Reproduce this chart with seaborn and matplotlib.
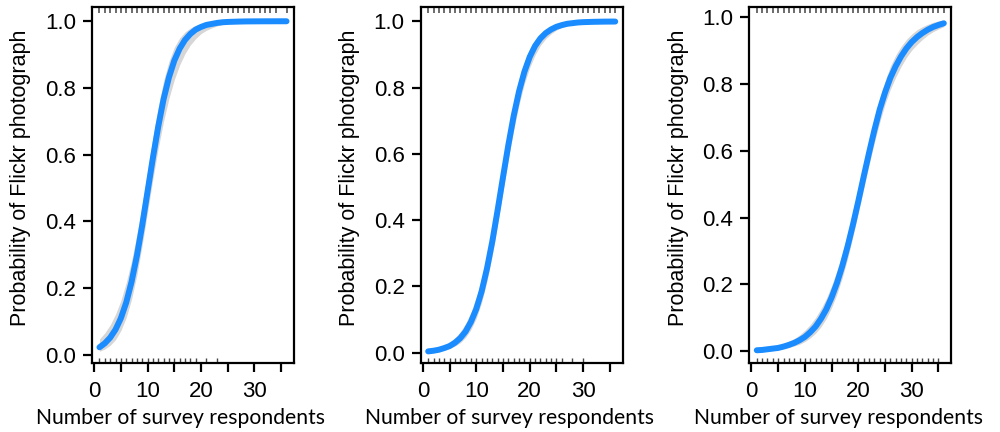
import matplotlib
matplotlib.use("Agg")
import matplotlib.pyplot as plt
import seaborn as sns
import pandas as pd

# number of survey respondents (x grid of the fitted curves)
respondents = list(range(1, 37))

# fitted probability + confidence band
prob_1 = [0.023, 0.035, 0.052, 0.076, 0.110, 0.157, 0.219, 0.297, 0.389, 0.490,
          0.591, 0.685, 0.767, 0.832, 0.882, 0.918, 0.944, 0.962, 0.975, 0.983,
          0.989, 0.992, 0.995, 0.997, 0.998, 0.9985, 0.999, 0.9994, 0.9996, 0.9997,
          0.9998, 0.9999, 0.9999, 1.0, 1.0, 1.0]
lower_1 = [0.011, 0.018, 0.029, 0.046, 0.073, 0.112, 0.167, 0.240, 0.330, 0.429,
           0.528, 0.620, 0.701, 0.769, 0.825, 0.869, 0.903, 0.929, 0.948, 0.963,
           0.973, 0.980, 0.986, 0.990, 0.993, 0.995, 0.996, 0.997, 0.998, 0.9986,
           0.999, 0.9993, 0.9995, 0.9996, 0.9997, 0.9998]
upper_1 = [0.048, 0.066, 0.090, 0.122, 0.163, 0.217, 0.282, 0.361, 0.452, 0.551,
           0.652, 0.744, 0.822, 0.880, 0.922, 0.950, 0.968, 0.980, 0.988, 0.992,
           0.995, 0.997, 0.998, 0.999, 0.9993, 0.9996, 0.9997, 0.9998, 0.9999, 0.9999,
           1.0, 1.0, 1.0, 1.0, 1.0, 1.0]

prob_2 = [0.004, 0.006, 0.009, 0.014, 0.020, 0.030, 0.044, 0.064, 0.093, 0.132,
          0.185, 0.254, 0.336, 0.431, 0.530, 0.627, 0.715, 0.789, 0.848, 0.893,
          0.926, 0.949, 0.965, 0.976, 0.984, 0.989, 0.993, 0.995, 0.997, 0.998,
          0.9985, 0.999, 0.9993, 0.9996, 0.9997, 0.9998]
lower_2 = [0.002, 0.003, 0.005, 0.008, 0.013, 0.020, 0.030, 0.046, 0.070, 0.104,
           0.152, 0.216, 0.295, 0.388, 0.487, 0.584, 0.672, 0.749, 0.812, 0.861,
           0.899, 0.928, 0.948, 0.963, 0.974, 0.982, 0.987, 0.991, 0.994, 0.996,
           0.997, 0.998, 0.9985, 0.9989, 0.9993, 0.9995]
upper_2 = [0.008, 0.011, 0.016, 0.023, 0.032, 0.045, 0.063, 0.088, 0.122, 0.167,
           0.224, 0.295, 0.380, 0.474, 0.573, 0.669, 0.754, 0.825, 0.879, 0.918,
           0.945, 0.964, 0.977, 0.985, 0.990, 0.994, 0.996, 0.997, 0.998, 0.9989,
           0.9993, 0.9995, 0.9997, 0.9998, 0.9999, 0.9999]

prob_3 = [0.003, 0.004, 0.006, 0.008, 0.010, 0.014, 0.019, 0.025, 0.033, 0.043,
          0.057, 0.074, 0.097, 0.125, 0.161, 0.204, 0.255, 0.314, 0.379, 0.449,
          0.522, 0.593, 0.661, 0.723, 0.774, 0.818, 0.853, 0.882, 0.906, 0.925,
          0.940, 0.952, 0.962, 0.970, 0.976, 0.981]
lower_3 = [0.002, 0.002, 0.003, 0.004, 0.006, 0.008, 0.011, 0.016, 0.021, 0.029,
           0.040, 0.054, 0.073, 0.098, 0.131, 0.171, 0.220, 0.278, 0.344, 0.414,
           0.486, 0.557, 0.624, 0.685, 0.739, 0.784, 0.820, 0.852, 0.879, 0.901,
           0.918, 0.933, 0.946, 0.956, 0.964, 0.971]
upper_3 = [0.007, 0.009, 0.011, 0.014, 0.018, 0.023, 0.030, 0.038, 0.049, 0.063,
           0.080, 0.101, 0.127, 0.158, 0.196, 0.241, 0.293, 0.351, 0.416, 0.485,
           0.557, 0.628, 0.696, 0.758, 0.808, 0.853, 0.886, 0.912, 0.933, 0.949,
           0.962, 0.971, 0.978, 0.984, 0.988, 0.991]

# rug marks: respondent counts with a photo (top) / without (bottom)
rug_top_1 = list(range(1, 35)) + [36]
rug_bottom_1 = list(range(1, 20)) + [21, 23]
rug_top_2 = list(range(1, 37))
rug_bottom_2 = list(range(1, 27)) + [28, 30]
rug_top_3 = list(range(1, 37))
rug_bottom_3 = list(range(1, 36))

panels = [
    (prob_1, lower_1, upper_1, rug_top_1, rug_bottom_1, (-0.025, 1.043)),
    (prob_2, lower_2, upper_2, rug_top_2, rug_bottom_2, (-0.032, 1.044)),
    (prob_3, lower_3, upper_3, rug_top_3, rug_bottom_3, (-0.036, 1.030)),
]

sns.set_style("ticks")
plt.rcParams['font.family'] = ['Liberation Sans', 'DejaVu Sans']
plt.rcParams['text.color'] = 'black'
plt.rcParams['axes.labelcolor'] = 'black'
plt.rcParams['xtick.color'] = 'black'
plt.rcParams['ytick.color'] = 'black'

fig = plt.figure(figsize=(10, 4.32), dpi=100)
lefts = [0.092, 0.4207, 0.7493]

for left, (prob, lo, hi, rtop, rbot, ylim) in zip(lefts, panels):
    ax = fig.add_axes([left, 0.159, 0.202, 0.825])
    df = pd.DataFrame({"x": respondents, "p": prob, "lo": lo, "hi": hi})

    ax.fill_between(df["x"], df["lo"], df["hi"], color="#d6d6d6", lw=0)
    sns.lineplot(data=df, x="x", y="p", ax=ax, color="#1a8cff", lw=4.3,
                 solid_capstyle="round")

    sns.rugplot(x=rbot, ax=ax, height=0.016, color="#444444", lw=1.1)
    ax.vlines(rtop, 1 - 0.018, 1, transform=ax.get_xaxis_transform(),
              color="#444444", lw=1.1)

    ax.set_xlim(-0.4, 37.4)
    ax.set_ylim(*ylim)
    ax.set_xticks([0, 5, 10, 15, 20, 25, 30, 35])
    ax.set_xticklabels(["0", "", "10", "", "20", "", "30", ""])
    ax.set_yticks([0, 0.2, 0.4, 0.6, 0.8, 1.0])
    ax.set_yticklabels(["0.0", "0.2", "0.4", "0.6", "0.8", "1.0"])
    ax.tick_params(axis="both", direction="out", length=6.5, width=1.6,
                   labelsize=16, color="black", labelcolor="black")
    ax.tick_params(axis="x", pad=6)
    ax.tick_params(axis="y", pad=5)
    for s in ax.spines.values():
        s.set_visible(True)
        s.set_linewidth(1.6)
        s.set_color("black")

    ax.set_ylabel("Probability of Flickr photograph", fontsize=15.5,
                  color="black")
    ax.yaxis.set_label_coords(-0.30, 0.52)
    ax.set_xlabel("Number of survey respondents", fontsize=15.2,
                  family=["Lato", "DejaVu Sans"], color="black")
    ax.xaxis.set_label_coords(0.44, -0.125)

fig.savefig("out.png", dpi=100)
